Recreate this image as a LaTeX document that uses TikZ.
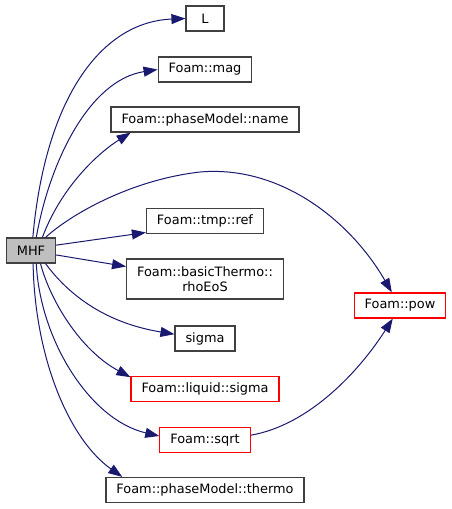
\documentclass[tikz,border=0pt]{standalone}
\usepackage{fontspec}
\setmainfont{DejaVu Sans}
\usetikzlibrary{arrows.meta}
\definecolor{edgeblue}{HTML}{191970}
\definecolor{boxline}{gray}{0.25}
\definecolor{rootgray}{gray}{0.75}

\begin{document}
\begin{tikzpicture}[x=1pt, y=-1pt,
  fn/.style={draw=boxline, line width=1.2pt, inner xsep=10.5pt, inner ysep=0pt, minimum height=25pt, font=\fontsize{12.9}{15}\selectfont, align=center},
  hot/.style={fn, draw=red},
  root/.style={fn, fill=rootgray},
  call/.style={-{Triangle[length=14pt,width=10pt]}, color=edgeblue, line width=1pt}
]
  \useasboundingbox (0,0) rectangle (452,509);

  \node[root] (mhf) at (31,250.5) {MHF};
  \node[fn, minimum width=38pt] (l) at (205,18.5) {L};
  \node[fn] (mag) at (205,69.5) {Foam::mag};
  \node[fn] (name) at (205,119.5) {Foam::phaseModel::name};
  \node[fn] (ref) at (205,221) {Foam::tmp::ref};
  \node[fn, minimum height=40pt] (rho) at (205,279) {Foam::basicThermo::\\rhoEoS};
  \node[fn] (sig) at (205,338.5) {sigma};
  \node[hot] (lsig) at (205,389) {Foam::liquid::sigma};
  \node[hot] (sqrt) at (205,440) {Foam::sqrt};
  \node[fn] (thermo) at (205,490) {Foam::phaseModel::thermo};
  \node[hot] (pow) at (400,305.5) {Foam::pow};

  \coordinate (peak) at (200,172);

  \draw[call] (mhf.82) .. controls (45,100) and (100,22) .. (l.west);
  \draw[call] (mhf.68) .. controls (50,160) and (90,80) .. (mag.west);
  \draw[call] (mhf.49) .. controls (60,190) and (95,155) .. (name.190);
  \draw[call] (mhf.42) .. controls (70,215) and (130,180) .. (peak)
    .. controls (280,165) and (350,220) .. (pow.122);
  \draw[call] (mhf.12) -- (ref.191);
  \draw[call] (mhf.-10) -- (rho.171);
  \draw[call] (mhf.-42) .. controls (65,290) and (100,322) .. (sig.172);
  \draw[call] (mhf.-54) .. controls (50,300) and (80,350) .. (lsig.171);
  \draw[call] (mhf.-68) .. controls (40,340) and (90,420) .. (sqrt.175);
  \draw[call] (mhf.-81) .. controls (35,360) and (70,440) .. (thermo.171);
  \draw[call] (sqrt.6) .. controls (310,425) and (360,370) .. (pow.241);
\end{tikzpicture}
\end{document}
